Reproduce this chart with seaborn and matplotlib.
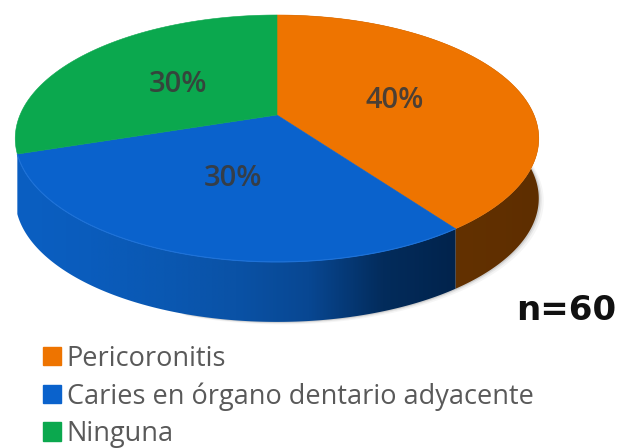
import numpy as np
import matplotlib
matplotlib.use('Agg')
import matplotlib.pyplot as plt
from matplotlib.colors import to_rgb
from matplotlib.patches import Patch, Polygon
import seaborn as sns

CATEGORIES = ['Pericoronitis', 'Caries en órgano dentario adyacente', 'Ninguna']
VALUES = [40, 30, 30]
LABELS = ['40%', '30%', '30%']
COLORS = ['#EE7400', '#0A62CC', '#0BA84E']
# rim colours, left to right on screen (green has no visible rim)
SIDE_SHADES = [['#6E3800', '#663300', '#5E2E00'],
               ['#0B5FC2', '#0A5CBC', '#0A58B2', '#0A52A6', '#084792', '#032C5C', '#01234C'],
               None]

# pie geometry in pixels
CX, CY = 277, 115
A, B, K = 257, 119, 0.19
DEPTH = 60

sns.set_theme(style='white')
plt.rcParams['font.family'] = ['Open Sans', 'DejaVu Sans']


def project(theta):
    # clockwise from the top, with a bit of perspective
    u, v = np.sin(theta), np.cos(theta)
    w = 1 + K * v
    return CX + A * u / w, CY - B * v / w


fig = plt.figure(figsize=(6.18, 4.48), dpi=100)
ax = fig.add_axes([0, 0, 1, 1])

edges = np.cumsum([0] + VALUES) / sum(VALUES) * 2 * np.pi

# soft shadow on the right side of the rim
for off, alpha in [(5, 0.04), (3, 0.06), (1.5, 0.10)]:
    th = np.linspace(np.pi * 0.3, np.pi * 1.1, 200)
    x, y = project(th)
    ax.fill(x + off, y + DEPTH + off * 0.5, color='black', alpha=alpha, lw=0, zorder=1)

# rim, gradient image clipped to each slice
for i, shades in enumerate(SIDE_SHADES):
    if shades is None:
        continue
    th = np.linspace(edges[i], edges[i + 1], 200)
    x, y = project(th)
    pts = list(zip(x, y)) + list(zip(x[::-1], y[::-1] + DEPTH))
    poly = Polygon(pts, closed=True, fc='none', ec='none', transform=ax.transData)
    ax.add_patch(poly)
    grad = np.array([[to_rgb(c) for c in sns.blend_palette(shades, n_colors=256)]])
    im = ax.imshow(grad, extent=(x.min(), x.max(), y.max() + DEPTH, y.min()), aspect='auto',
                   interpolation='bilinear', zorder=2)
    im.set_clip_path(poly)

ax.set_xlim(0, 618)
ax.set_ylim(448, 0)
ax.axis('off')

# top face
for i, col in enumerate(COLORS):
    th = np.linspace(edges[i], edges[i + 1], 150)
    x, y = project(th)
    pts = [(CX, CY)] + list(zip(x, y))
    ax.add_patch(Polygon(pts, closed=True, fc=col, ec=col, lw=0.4, zorder=3))

# lighter lip along the front of the blue slice
th = np.linspace(edges[1], edges[2], 150)
x, y = project(th)
ax.plot(x, y, color='#1E72D8', lw=0.8, zorder=3.5)

# slice labels
LABEL_AT = [(395, 100), (233, 178), (178, 84)]
for (lx, ly), lab in zip(LABEL_AT, LABELS):
    ax.text(lx, ly, lab, ha='center', va='center', fontsize=21, fontweight='semibold',
            color='#3A3A3A', alpha=0.9, zorder=4)

ax.text(566, 311, 'n=60', ha='center', va='center', fontsize=24.5, fontweight='bold',
        color='#111111', family='DejaVu Sans', zorder=4)

handles = [Patch(fc=c, ec=c) for c in COLORS]
leg = ax.legend(handles, CATEGORIES, loc='lower left', bbox_to_anchor=(43 / 618, 0 / 448),
                frameon=False, fontsize=19.5, labelcolor='#595959', handlelength=0.68,
                handleheight=0.68, handletextpad=0.2, labelspacing=0.35, borderaxespad=0,
                borderpad=0)

fig.savefig('out.png', dpi=100)
